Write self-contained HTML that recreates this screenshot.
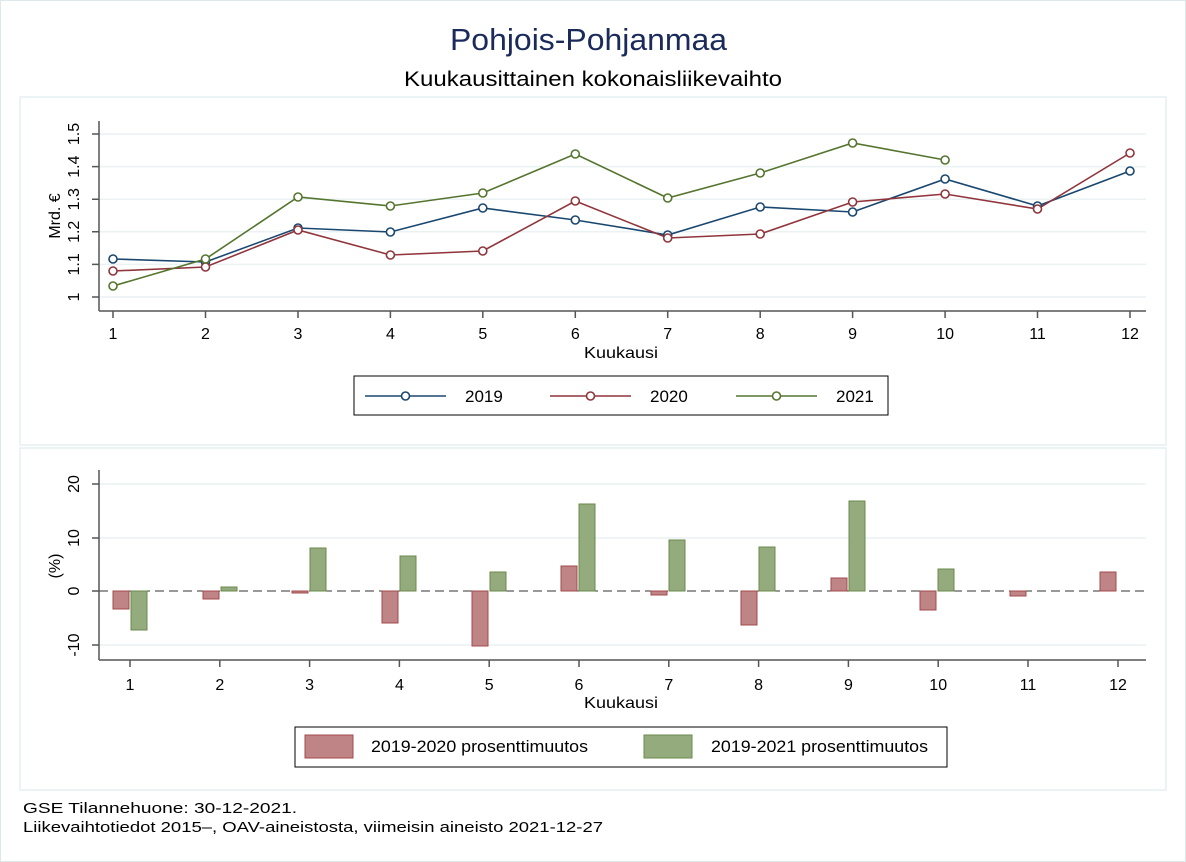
<!DOCTYPE html>
<html><head><meta charset="utf-8"><style>
body{margin:0;background:#fff;}
svg{display:block;font-family:"Liberation Sans",Arial,sans-serif;}
</style></head><body>
<svg width="1186" height="862" viewBox="0 0 1186 862" xmlns="http://www.w3.org/2000/svg">
<rect x="0.5" y="0.5" width="1185" height="861" fill="#fff" stroke="#dde8ea"/>
<text x="450" y="50" font-size="31" fill="#1a2a5a" textLength="277" lengthAdjust="spacingAndGlyphs">Pohjois-Pohjanmaa</text>
<text x="404" y="86" font-size="21" fill="#000" textLength="378" lengthAdjust="spacingAndGlyphs">Kuukausittainen kokonaisliikevaihto</text>
<rect x="20" y="97" width="1146" height="348" fill="#fff" stroke="#e6eff1" stroke-width="1.5"/>
<rect x="20" y="448" width="1146" height="342" fill="#fff" stroke="#e6eff1" stroke-width="1.5"/>
<g stroke="#eaf2f3" stroke-width="1.5">
<line x1="99" x2="1146" y1="134" y2="134"/><line x1="99" x2="1146" y1="166.6" y2="166.6"/><line x1="99" x2="1146" y1="199.2" y2="199.2"/><line x1="99" x2="1146" y1="231.8" y2="231.8"/><line x1="99" x2="1146" y1="264.4" y2="264.4"/><line x1="99" x2="1146" y1="297" y2="297"/>
</g>
<g stroke="#555" stroke-width="1.5" fill="none">
<line x1="99" y1="121" x2="99" y2="311"/><line x1="99" y1="311" x2="1146" y2="311"/>
<path d="M92 134H99M92 166.6H99M92 199.2H99M92 231.8H99M92 264.4H99M92 297H99"/>
<path d="M113 311v7M205.5 311v7M298 311v7M390.4 311v7M482.8 311v7M575.3 311v7M667.7 311v7M760.2 311v7M852.6 311v7M945.1 311v7M1037.5 311v7M1130 311v7"/>
</g>
<g font-size="16" fill="#000" text-anchor="middle">
<text transform="translate(79,297) rotate(-90)">1</text>
<text transform="translate(79,264.4) rotate(-90)">1.1</text>
<text transform="translate(79,231.8) rotate(-90)">1.2</text>
<text transform="translate(79,199.2) rotate(-90)">1.3</text>
<text transform="translate(79,166.6) rotate(-90)">1.4</text>
<text transform="translate(79,134) rotate(-90)">1.5</text>
<text transform="translate(60,216) rotate(-90)">Mrd. €</text>
<text x="113" y="339">1</text><text x="205.5" y="339">2</text><text x="298" y="339">3</text><text x="390.4" y="339">4</text><text x="482.8" y="339">5</text><text x="575.3" y="339">6</text><text x="667.7" y="339">7</text><text x="760.2" y="339">8</text><text x="852.6" y="339">9</text><text x="945.1" y="339">10</text><text x="1037.5" y="339">11</text><text x="1130" y="339">12</text>
</g>
<text x="584" y="358" font-size="16" textLength="74" lengthAdjust="spacingAndGlyphs">Kuukausi</text>
<g fill="none" stroke-width="1.6">
<polyline stroke="#1a476f" points="113,259 205.5,262 298,228 390.4,232 482.8,208 575.3,220 667.7,235 760.2,207 852.6,212 945.1,179 1037.5,206 1130,171"/>
<polyline stroke="#90353b" points="113,271 205.5,267 298,230 390.4,255 482.8,251 575.3,201 667.7,238 760.2,234 852.6,202 945.1,194 1037.5,209 1130,153"/>
<polyline stroke="#55752f" points="113,286 205.5,259 298,197 390.4,206 482.8,193 575.3,154 667.7,198 760.2,173 852.6,143 945.1,160"/>
</g>
<g fill="#fff" stroke-width="1.6">
<g stroke="#1a476f"><circle cx="113" cy="259" r="4"/><circle cx="205.5" cy="262" r="4"/><circle cx="298" cy="228" r="4"/><circle cx="390.4" cy="232" r="4"/><circle cx="482.8" cy="208" r="4"/><circle cx="575.3" cy="220" r="4"/><circle cx="667.7" cy="235" r="4"/><circle cx="760.2" cy="207" r="4"/><circle cx="852.6" cy="212" r="4"/><circle cx="945.1" cy="179" r="4"/><circle cx="1037.5" cy="206" r="4"/><circle cx="1130" cy="171" r="4"/></g>
<g stroke="#90353b"><circle cx="113" cy="271" r="4"/><circle cx="205.5" cy="267" r="4"/><circle cx="298" cy="230" r="4"/><circle cx="390.4" cy="255" r="4"/><circle cx="482.8" cy="251" r="4"/><circle cx="575.3" cy="201" r="4"/><circle cx="667.7" cy="238" r="4"/><circle cx="760.2" cy="234" r="4"/><circle cx="852.6" cy="202" r="4"/><circle cx="945.1" cy="194" r="4"/><circle cx="1037.5" cy="209" r="4"/><circle cx="1130" cy="153" r="4"/></g>
<g stroke="#55752f"><circle cx="113" cy="286" r="4"/><circle cx="205.5" cy="259" r="4"/><circle cx="298" cy="197" r="4"/><circle cx="390.4" cy="206" r="4"/><circle cx="482.8" cy="193" r="4"/><circle cx="575.3" cy="154" r="4"/><circle cx="667.7" cy="198" r="4"/><circle cx="760.2" cy="173" r="4"/><circle cx="852.6" cy="143" r="4"/><circle cx="945.1" cy="160" r="4"/></g>
</g>
<rect x="354" y="376" width="534" height="39" fill="#fff" stroke="#000" stroke-width="1"/>
<g stroke-width="1.6" fill="#fff">
<line x1="365" x2="446" y1="396" y2="396" stroke="#1a476f"/><circle cx="405.5" cy="396" r="4" stroke="#1a476f"/>
<line x1="550" x2="631" y1="396" y2="396" stroke="#90353b"/><circle cx="590.5" cy="396" r="4" stroke="#90353b"/>
<line x1="736" x2="817" y1="396" y2="396" stroke="#55752f"/><circle cx="776.5" cy="396" r="4" stroke="#55752f"/>
</g>
<g font-size="17"><text x="465" y="402">2019</text><text x="650" y="402">2020</text><text x="836" y="402">2021</text></g>
<g stroke="#eaf2f3" stroke-width="1.5">
<line x1="99" x2="1146" y1="484" y2="484"/><line x1="99" x2="1146" y1="538" y2="538"/><line x1="99" x2="1146" y1="645" y2="645"/>
</g>
<line x1="99" x2="1146" y1="591" y2="591" stroke="#333" stroke-width="1" stroke-dasharray="9,5"/>
<g stroke-width="1">
<g fill="#bf8486" stroke="#a3484e">
<rect x="113" y="591" width="16" height="18"/><rect x="203" y="591" width="16" height="8"/><rect x="292" y="591" width="16" height="2"/><rect x="382" y="591" width="16" height="32"/><rect x="472" y="591" width="16" height="55"/><rect x="561" y="566" width="16" height="25"/><rect x="651" y="591" width="16" height="4"/><rect x="741" y="591" width="16" height="34"/><rect x="831" y="578" width="16" height="13"/><rect x="920" y="591" width="16" height="19"/><rect x="1010" y="591" width="16" height="5"/><rect x="1100" y="572" width="16" height="19"/>
</g>
<g fill="#94ab7e" stroke="#6a8a4a">
<rect x="131" y="591" width="16" height="39"/><rect x="221" y="587" width="16" height="4"/><rect x="310" y="548" width="16" height="43"/><rect x="400" y="556" width="16" height="35"/><rect x="490" y="572" width="16" height="19"/><rect x="579" y="504" width="16" height="87"/><rect x="669" y="540" width="16" height="51"/><rect x="759" y="547" width="16" height="44"/><rect x="849" y="501" width="16" height="90"/><rect x="938" y="569" width="16" height="22"/>
</g>
</g>
<g stroke="#555" stroke-width="1.5" fill="none">
<line x1="99" y1="470" x2="99" y2="660"/><line x1="99" y1="660" x2="1146" y2="660"/>
<path d="M92 484H99M92 538H99M92 591H99M92 645H99"/>
<path d="M130 660v7M219.8 660v7M309.6 660v7M399.4 660v7M489.2 660v7M579 660v7M668.8 660v7M758.6 660v7M848.4 660v7M938.2 660v7M1028 660v7M1118 660v7"/>
</g>
<g font-size="16" fill="#000" text-anchor="middle">
<text transform="translate(79,484) rotate(-90)">20</text>
<text transform="translate(79,538) rotate(-90)">10</text>
<text transform="translate(79,591) rotate(-90)">0</text>
<text transform="translate(79,645) rotate(-90)">-10</text>
<text transform="translate(60,566) rotate(-90)">(%)</text>
<text x="130" y="690">1</text><text x="219.8" y="690">2</text><text x="309.6" y="690">3</text><text x="399.4" y="690">4</text><text x="489.2" y="690">5</text><text x="579" y="690">6</text><text x="668.8" y="690">7</text><text x="758.6" y="690">8</text><text x="848.4" y="690">9</text><text x="938.2" y="690">10</text><text x="1028" y="690">11</text><text x="1118" y="690">12</text>
</g>
<text x="584" y="708" font-size="16" textLength="74" lengthAdjust="spacingAndGlyphs">Kuukausi</text>
<rect x="295" y="727" width="652" height="40" fill="#fff" stroke="#000" stroke-width="1"/>
<rect x="305" y="735" width="48" height="23" fill="#bf8486" stroke="#a3484e"/>
<rect x="644" y="735" width="48" height="23" fill="#94ab7e" stroke="#6a8a4a"/>
<g font-size="17"><text x="371" y="752" textLength="217" lengthAdjust="spacingAndGlyphs">2019-2020 prosenttimuutos</text><text x="711" y="752" textLength="217" lengthAdjust="spacingAndGlyphs">2019-2021 prosenttimuutos</text></g>
<g font-size="15"><text x="23" y="813" textLength="274" lengthAdjust="spacingAndGlyphs">GSE Tilannehuone: 30-12-2021.</text><text x="23" y="832" textLength="580" lengthAdjust="spacingAndGlyphs">Liikevaihtotiedot 2015–, OAV-aineistosta, viimeisin aineisto 2021-12-27</text></g>
</svg>
</body></html>
